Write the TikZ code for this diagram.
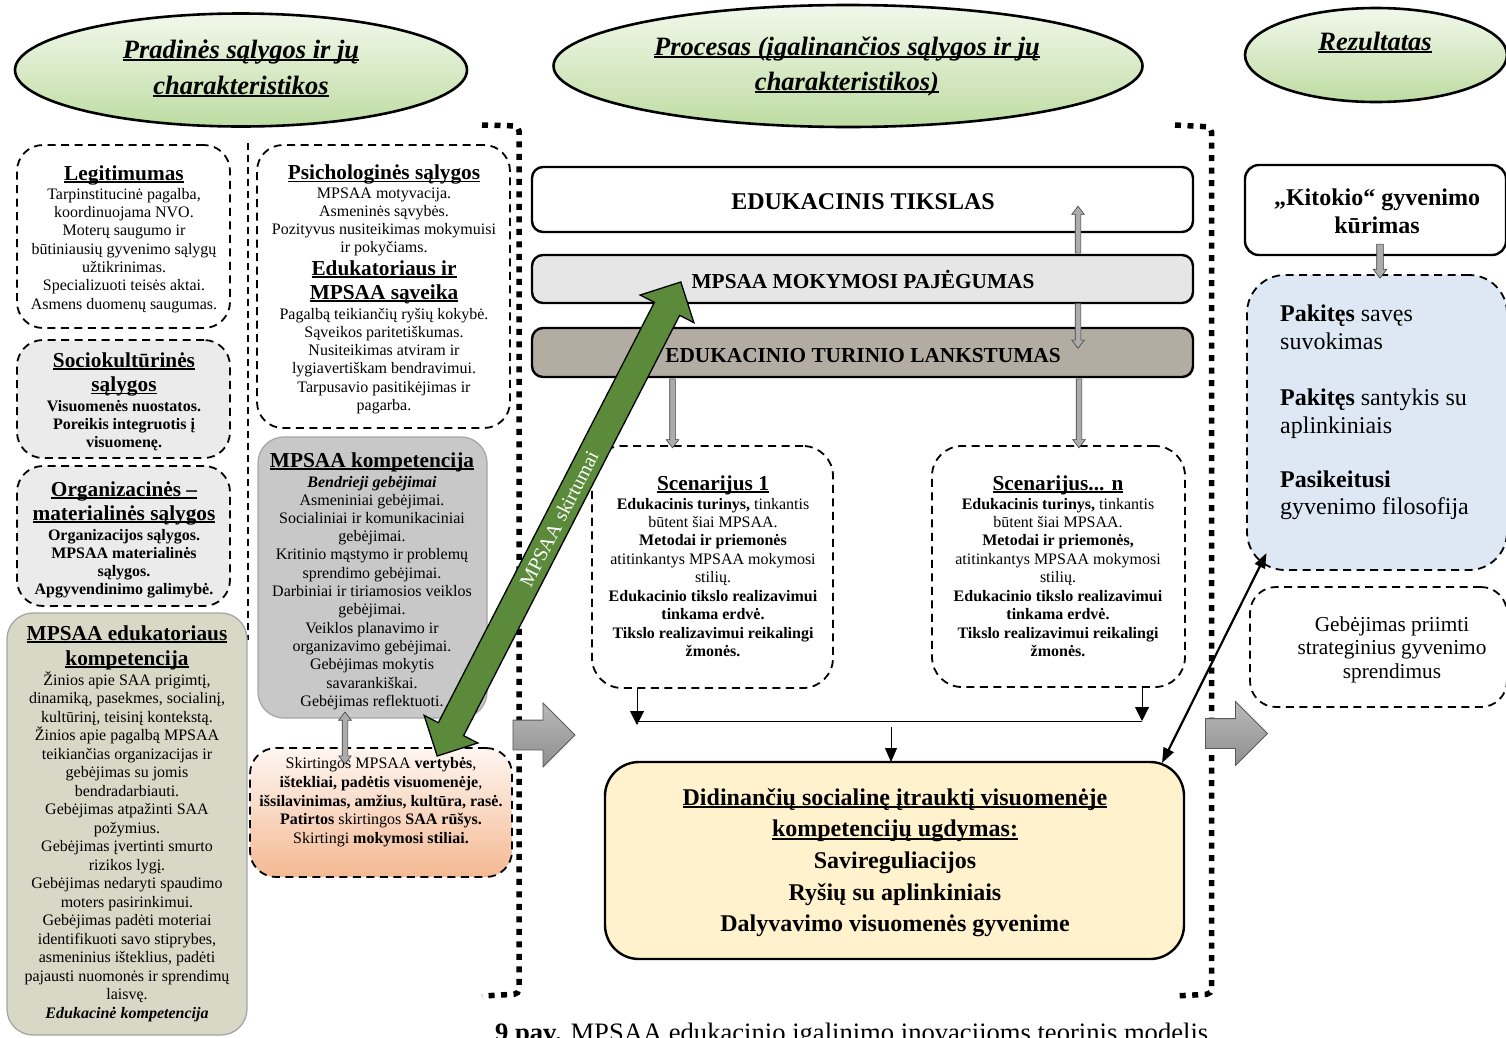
\documentclass[tikz,border=0pt]{standalone}
\usepackage{fontspec}
\setmainfont{Liberation Serif}
\usetikzlibrary{shapes.geometric,shapes.arrows,arrows.meta}
\definecolor{ellA}{HTML}{F2F8EC}
\definecolor{ellB}{HTML}{BEDCA2}
\definecolor{pajbg}{HTML}{E6E6E6}
\definecolor{lankbg}{HTML}{B3ACA2}
\definecolor{yelbg}{HTML}{FFF2CC}
\definecolor{bluebg}{HTML}{DDE8F4}
\definecolor{gkbg}{HTML}{C8C8C8}
\definecolor{edubg}{HTML}{D8D8C6}
\definecolor{socbg}{HTML}{EBEBEB}
\definecolor{orA}{HTML}{FEF6F1}
\definecolor{orB}{HTML}{F4B993}
\definecolor{arrgreen}{HTML}{5A8A3A}
\newsavebox\ulinbox
\newcommand\ulin[1]{\sbox\ulinbox{#1}\rlap{\rule[-0.12em]{\wd\ulinbox}{0.065em}}\usebox\ulinbox}
\newcommand\txtrows[6]{\foreach \rowtxt [count=\rowi] in {#6}{\node[anchor=base,inner sep=0pt,#5] (#1\rowi) at (#2,{#3+(\rowi-1)*(#4)}) {\rowtxt};}}
\begin{document}
\begin{tikzpicture}[x=1pt,y=-1pt,
  ell/.style={ellipse, draw=black, line width=2.6pt, top color=ellA, bottom color=ellB, inner sep=0pt},
  etitle/.style={font=\fontsize{26.5}{30}\selectfont\bfseries\itshape},
  ttl/.style={font=\fontsize{21.3}{24}\selectfont\bfseries},
  bod/.style={font=\fontsize{16}{18.5}\selectfont},
  bodb/.style={font=\fontsize{16}{18.5}\selectfont\bfseries},
  bodbi/.style={font=\fontsize{16}{18.5}\selectfont\bfseries\itshape},
  bigf/.style={font=\fontsize{24}{28}\selectfont\bfseries},
  barf/.style={font=\fontsize{21.3}{24}\selectfont\bfseries},
  bluef/.style={font=\fontsize{24}{28}\selectfont},
  gebf/.style={font=\fontsize{21.3}{24.5}\selectfont},
  dbox/.style={draw=black, line width=1.8pt, dash pattern=on 8pt off 5.5pt, rounded corners=26pt, inner sep=0pt, outer sep=0pt},
  gbox/.style={draw=gray!70, line width=1.3pt, rounded corners=26pt, inner sep=0pt, outer sep=0pt},
  bar/.style={draw=black, line width=2.4pt, rounded corners=11pt, inner sep=0pt, outer sep=0pt},
  thinarr/.style={single arrow, draw=black!75, fill=gray!65, line width=0.6pt, inner xsep=0pt, inner ysep=2.5pt, single arrow head extend=3.5pt, single arrow tip angle=75, outer sep=0pt},
  thindarr/.style={double arrow, draw=black!75, fill=gray!65, line width=0.6pt, inner xsep=0pt, inner ysep=2.5pt, double arrow head extend=3.5pt, double arrow tip angle=75, outer sep=0pt},
  bigarr/.style={single arrow, draw=black!65, line width=0.8pt, top color=gray!55, bottom color=gray!88, minimum height=62pt, inner xsep=0pt, inner ysep=14.5pt, single arrow head extend=17pt, single arrow tip angle=90},
  blk/.style={line width=1pt, draw=black},
  frm/.style={line width=5.5pt, dash pattern=on 6pt off 6.5pt, rounded corners=5pt}
]
\useasboundingbox (0,0) rectangle (1506,1037);
\clip (0,0) rectangle (1506,1037);
\fill[white] (0,0) rectangle (1506,1037);

% frames and separator
\draw[frm] (482,125) -- (519,126) -- (519,994) -- (482,996);
\draw[frm] (1175,125) -- (1211.5,127) -- (1211.5,994) -- (1175,996);
\draw[line width=1.6pt, dash pattern=on 7pt off 5pt] (248,143) -- (248,640);

% ellipses
\node[ell, minimum width=452pt, minimum height=113pt] (e1) at (241,70) {};
\node[ell, minimum width=589pt, minimum height=122pt] (e2) at (848,66) {};
\node[ell, minimum width=262pt, minimum height=94pt] (e3) at (1376,55) {};
\txtrows{eA}{241}{58}{36}{etitle}{{\ulin{Pradinės sąlygos ir jų}},{\ulin{charakteristikos}}}
\txtrows{eB}{847}{55}{35}{etitle}{{\ulin{Procesas (įgalinančios sąlygos ir jų}},{\ulin{charakteristikos)}}}
\txtrows{eC}{1375}{50}{0}{etitle}{{\ulin{Rezultatas}}}

% left column
\node[dbox, fill=white, minimum width=213pt, minimum height=183pt] (leg) at (123.5,236.5) {};
\txtrows{legT}{124}{180}{0}{ttl}{{\ulin{Legitimumas}}}
\txtrows{legB}{124}{199}{18.35}{bod}{{Tarpinstitucinė pagalba,},{koordinuojama NVO.},{Moterų saugumo ir},{būtiniausių gyvenimo sąlygų},{užtikrinimas.},{Specializuoti teisės aktai.},{Asmens duomenų saugumas.}}

\node[dbox, fill=socbg, minimum width=213pt, minimum height=118pt] (soc) at (123.5,399) {};
\txtrows{socT}{124}{367}{24.5}{ttl}{{\ulin{Sociokultūrinės}},{\ulin{sąlygos}}}
\txtrows{socB}{124}{411}{18}{bodb}{{Visuomenės nuostatos.},{Poreikis integruotis į},{visuomenę.}}

\node[dbox, fill=socbg, minimum width=213pt, minimum height=140pt] (org) at (123.5,536) {};
\txtrows{orgT}{124}{496}{24}{ttl}{{\ulin{Organizacinės –}},{\ulin{materialinės sąlygos}}}
\txtrows{orgB}{124}{540}{18.3}{bodb}{{Organizacijos sąlygos.},{MPSAA materialinės},{sąlygos.},{Apgyvendinimo galimybė.}}

\node[gbox, fill=edubg, minimum width=240pt, minimum height=422pt] (edu) at (127,824) {};
\txtrows{eduT}{127}{640}{25}{ttl}{{\ulin{MPSAA edukatoriaus}},{\ulin{kompetencija}}}
\txtrows{eduB}{127}{685}{18.5}{bod}{{Žinios apie SAA prigimtį,},{dinamiką, pasekmes, socialinį,},{kultūrinį, teisinį kontekstą.},{Žinios apie pagalbą MPSAA},{teikiančias organizacijas ir},{gebėjimas su jomis},{bendradarbiauti.},{Gebėjimas atpažinti SAA},{požymius.},{Gebėjimas įvertinti smurto},{rizikos lygį.},{Gebėjimas nedaryti spaudimo},{moters pasirinkimui.},{Gebėjimas padėti moteriai},{identifikuoti savo stiprybes,},{asmeninius išteklius, padėti},{pajausti nuomonės ir sprendimų},{laisvę.}}
\txtrows{eduE}{127}{1018}{0}{bodbi}{{Edukacinė kompetencija}}

% middle column
\node[dbox, fill=white, minimum width=253pt, minimum height=283pt] (psy) at (383.5,286.5) {};
\txtrows{psyT}{384}{179.5}{0}{ttl}{{\ulin{Psichologinės sąlygos}}}
\txtrows{psyB}{384}{198}{18.2}{bod}{{MPSAA motyvacija.},{Asmeninės sąvybės.},{Pozityvus nusiteikimas mokymuisi},{ir pokyčiams.}}
\txtrows{savT}{384}{275}{24}{ttl}{{\ulin{Edukatoriaus ir}},{\ulin{MPSAA sąveika}}}
\txtrows{savB}{384}{319}{18.3}{bod}{{Pagalbą teikiančių ryšių kokybė.},{Sąveikos paritetiškumas.},{Nusiteikimas atviram ir},{lygiavertiškam bendravimui.},{Tarpusavio pasitikėjimas ir},{pagarba.}}

\node[gbox, fill=gkbg, minimum width=229pt, minimum height=281pt] (mk) at (372.5,577.5) {};
\txtrows{mkT}{372}{467}{0}{ttl}{{\ulin{MPSAA kompetencija}}}
\txtrows{mkS}{372}{487}{0}{bodbi}{{Bendrieji gebėjimai}}
\txtrows{mkB}{372}{505}{18.3}{bod}{{Asmeniniai gebėjimai.},{Socialiniai ir komunikaciniai},{gebėjimai.},{Kritinio mąstymo ir problemų},{sprendimo gebėjimai.},{Darbiniai ir tiriamosios veiklos},{gebėjimai.},{Veiklos planavimo ir},{organizavimo gebėjimai.},{Gebėjimas mokytis},{savarankiškai.},{Gebėjimas reflektuoti.}}

\node[dbox, top color=orA, bottom color=orB, minimum width=262pt, minimum height=129pt] (skirt) at (381,812.5) {};
\txtrows{skB}{381}{768.5}{18.75}{bod}{{Skirtingos MPSAA \textbf{vertybės},},{\textbf{ištekliai, padėtis visuomenėje},},{\textbf{išsilavinimas, amžius, kultūra, rasė.}},{\textbf{Patirtos} skirtingos \textbf{SAA rūšys.}},{Skirtingi \textbf{mokymosi stiliai.}}}

% process column
\node[bar, fill=white, minimum width=661pt, minimum height=65pt] (tiks) at (862.5,199.5) {};
\node[bar, fill=pajbg, minimum width=661pt, minimum height=48pt] (paj) at (862.5,279) {};
\node[bar, fill=lankbg, minimum width=661pt, minimum height=49pt] (lank) at (862.5,352.5) {};
\txtrows{tiksT}{863}{209.5}{0}{bigf}{{EDUKACINIS TIKSLAS}}
\txtrows{pajT}{863}{288.5}{0}{barf}{{MPSAA MOKYMOSI PAJĖGUMAS}}
\txtrows{lankT}{863}{362}{0}{barf}{{EDUKACINIO TURINIO LANKSTUMAS}}

\node[dbox, fill=white, rounded corners=30pt, minimum width=241pt, minimum height=242pt] (sc1) at (712.5,567) {};
\txtrows{sc1T}{713}{490}{0}{ttl}{{\ulin{Scenarijus 1}}}
\txtrows{sc1B}{713}{509}{18.45}{bod}{{\textbf{Edukacinis turinys,} tinkantis},{būtent šiai MPSAA.},{\textbf{Metodai ir priemonės}},{atitinkantys MPSAA mokymosi},{stilių.},{\textbf{Edukacinio tikslo realizavimui}},{\textbf{tinkama erdvė.}},{\textbf{Tikslo realizavimui reikalingi}},{\textbf{žmonės.}}}

\node[dbox, fill=white, rounded corners=30pt, minimum width=253pt, minimum height=241pt] (scn) at (1058.5,566.5) {};
\txtrows{scnT}{1058}{490}{0}{ttl}{{\ulin{Scenarijus... n}}}
\txtrows{scnB}{1058}{509}{18.45}{bod}{{\textbf{Edukacinis turinys,} tinkantis},{būtent šiai MPSAA.},{\textbf{Metodai ir priemonės,}},{atitinkantys MPSAA mokymosi},{stilių.},{\textbf{Edukacinio tikslo realizavimui}},{\textbf{tinkama erdvė.}},{\textbf{Tikslo realizavimui reikalingi}},{\textbf{žmonės.}}}

\node[draw=black, line width=2.4pt, rounded corners=34pt, fill=yelbg, minimum width=579pt, minimum height=197pt, inner sep=0pt, outer sep=0pt] (yel) at (894.5,860.5) {};
\txtrows{yelT}{895}{805}{31.7}{bigf}{{\ulin{Didinančių socialinę įtrauktį visuomenėje}},{\ulin{kompetencijų ugdymas:}},{Savireguliacijos},{Ryšių su aplinkiniais},{Dalyvavimo visuomenės gyvenime}}

% result column
\node[bar, fill=white, rounded corners=14pt, minimum width=261pt, minimum height=90pt] (kit) at (1375.5,210) {};
\txtrows{kitT}{1377}{205}{28}{bigf}{{„Kitokio“ gyvenimo},{kūrimas}}
\node[dbox, fill=bluebg, rounded corners=38pt, minimum width=260pt, minimum height=295pt] (blue) at (1377,422.5) {};
\txtrows{blA}{1280}{321.5}{28}{bluef,anchor=base west}{{\textbf{Pakitęs} savęs},{suvokimas}}
\txtrows{blB}{1280}{405}{28}{bluef,anchor=base west}{{\textbf{Pakitęs} santykis su},{aplinkiniais}}
\txtrows{blC}{1280}{487}{27}{bluef,anchor=base west}{{\textbf{Pasikeitusi}},{gyvenimo filosofija}}
\node[dbox, fill=white, minimum width=257pt, minimum height=120pt] (geb) at (1378.5,647) {};
\txtrows{gebT}{1392}{631}{23.75}{gebf}{{Gebėjimas priimti},{strateginius gyvenimo},{sprendimus}}

% big grey arrows
\node[bigarr] (ba1) at (536.5,735) {};
\node[bigarr] (ba2) at (1229,733.5) {};

% thin grey arrows
\node[thinarr, rotate=90, minimum height=47pt] (ga1) at (1078,231.5) {};
\node[thinarr, rotate=-90, minimum height=45pt] (ga2) at (1078,324) {};
\node[thinarr, rotate=-90, minimum height=69pt] (ga3) at (672.5,411.5) {};
\node[thinarr, rotate=-90, minimum height=69pt] (ga4) at (1079,411.5) {};
\node[thindarr, rotate=90, minimum height=52pt] (ga5) at (345,738) {};
\node[thinarr, rotate=-90, minimum height=34pt, inner ysep=3pt] (ga6) at (1380,259) {};

% black connectors
\coordinate (j1) at (637,725);
\coordinate (h1) at (637,721);
\coordinate (j2) at (1142,721);
\coordinate (jm) at (891,726.5);
\draw[blk,-{Triangle[length=14pt,width=14pt]}] (sc1.south -| j1) -- (j1);
\draw[blk,-{Triangle[length=14pt,width=14pt]}] (scn.south -| j2) -- (j2);
\draw[blk] (h1) -- (j2);
\draw[blk,-{Triangle[length=14pt,width=12pt]}] (jm) -- (yel.north -| jm);
\coordinate (yb1) at (1162,763);
\coordinate (yb2) at (1266.5,553);
\draw[line width=2.2pt, {Triangle[length=15pt,width=11pt]}-{Triangle[length=15pt,width=11pt]}] (yb1) -- (yb2);

% green arrow
\node[double arrow, draw=black, line width=1.3pt, fill=arrgreen, text=white, font=\fontsize{20}{22}\selectfont, inner xsep=0pt, inner ysep=6.5pt, minimum height=533pt, minimum width=59pt, double arrow head extend=16pt, double arrow tip angle=90, double arrow head indent=0pt, rotate=62.8] (grn) at (559,519) {MPSAA skirtumai};

% caption
\node[anchor=base west, inner sep=0pt, font=\fontsize{26.6}{30}\selectfont] (cap) at (495,1041) {\textbf{9 pav.} MPSAA edukacinio įgalinimo inovacijoms teorinis modelis};
\end{tikzpicture}
\end{document}
